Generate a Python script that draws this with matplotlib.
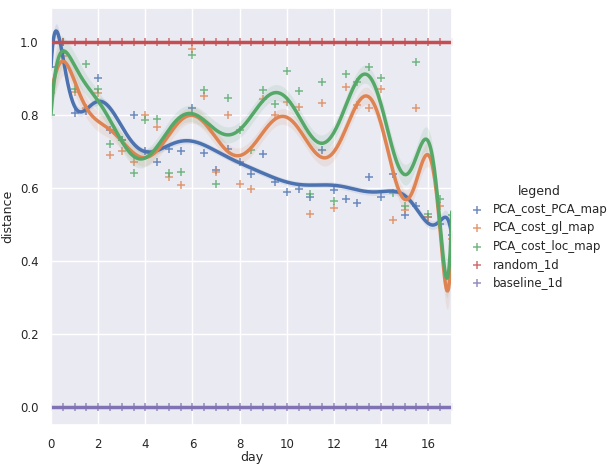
import numpy as np
import matplotlib
matplotlib.use("Agg")
import matplotlib.pyplot as plt
import seaborn as sns

sns.set_theme(style="darkgrid")
plt.rcParams['font.family'] = ['DejaVu Sans']

days = np.arange(0, 17.5, 0.5)

pca_cost_pca_map = [0.93, 0.97, 0.805, 0.81, 0.90, 0.76, 0.73, 0.80, 0.70, 0.67,
                    0.706, 0.70, 0.818, 0.695, 0.648, 0.706, 0.672, 0.638, 0.693, 0.615,
                    0.588, 0.598, 0.575, 0.704, 0.594, 0.571, 0.56, 0.629, 0.575, 0.638,
                    0.527, 0.551, 0.52, 0.50, 0.47]
pca_cost_gl_map = [0.86, 0.96, 0.864, 0.82, 0.86, 0.69, 0.70, 0.67, 0.80, 0.766,
                   0.63, 0.607, 0.98, 0.852, 0.645, 0.80, 0.61, 0.596, 0.843, 0.80,
                   0.836, 0.823, 0.528, 0.834, 0.544, 0.876, 0.827, 0.82, 0.87, 0.512,
                   0.54, 0.82, 0.52, 0.55, 0.46]
pca_cost_loc_map = [0.80, 1.0, 0.87, 0.94, 0.87, 0.72, 0.73, 0.64, 0.785, 0.79,
                    0.642, 0.645, 0.965, 0.868, 0.61, 0.847, 0.76, 0.704, 0.868, 0.829,
                    0.919, 0.866, 0.584, 0.889, 0.565, 0.912, 0.889, 0.93, 0.90, 0.585,
                    0.552, 0.945, 0.53, 0.57, 0.526]
random_1d = [1.0] * len(days)
baseline_1d = [0.0] * len(days)

names = ["PCA_cost_PCA_map", "PCA_cost_gl_map", "PCA_cost_loc_map", "random_1d", "baseline_1d"]
series = [pca_cost_pca_map, pca_cost_gl_map, pca_cost_loc_map, random_1d, baseline_1d]
colors = sns.color_palette("deep")

ORDER = 14

fig = plt.figure(figsize=(6.1, 4.65), dpi=100)
ax = fig.add_axes([0.0836, 0.086, 0.657, 0.897])

grid = np.linspace(0, 17, 500)
for name, vals, col in zip(names, series, colors):
    y = np.asarray(vals, dtype=float)
    ax.scatter(days, y, marker="+", s=36, color=col, alpha=0.8, linewidths=1.1, label=name)
    # polynomial regression like regplot(order=...)
    t = days / 17.0 * 2 - 1
    tg = grid / 17.0 * 2 - 1
    X = np.polynomial.legendre.legvander(t, ORDER)
    Xg = np.polynomial.legendre.legvander(tg, ORDER)
    coef, *_ = np.linalg.lstsq(X, y, rcond=None)
    fit = Xg @ coef
    resid = y - X @ coef
    dof = max(len(y) - ORDER - 1, 1)
    sigma = np.sqrt(np.sum(resid ** 2) / dof)
    cov = np.linalg.pinv(X.T @ X)
    se = sigma * np.sqrt(np.einsum("ij,jk,ik->i", Xg, cov, Xg))
    ax.fill_between(grid, fit - 0.3 * se, fit + 0.3 * se, color=col, alpha=0.12, linewidth=0)
    ax.plot(grid, fit, color=col, lw=2.5)

ax.set_xlim(0, 17)
ax.set_ylim(-0.049, 1.093)
ax.set_xticks(range(0, 17, 2))
ax.set_yticks([0.0, 0.2, 0.4, 0.6, 0.8, 1.0])
ax.tick_params(labelsize=8.5, pad=3)
ax.set_xlabel("day", fontsize=9, labelpad=0)
ax.set_ylabel("distance", fontsize=9, labelpad=4)

handles, labels = ax.get_legend_handles_labels()
leg = fig.legend(handles, labels, title="legend", loc="center left",
                 bbox_to_anchor=(0.755, 0.49), frameon=False, fontsize=8.5,
                 title_fontsize=9, handlelength=1.0, handletextpad=0.8,
                 labelspacing=0.45)

fig.savefig("out.png", dpi=100)
